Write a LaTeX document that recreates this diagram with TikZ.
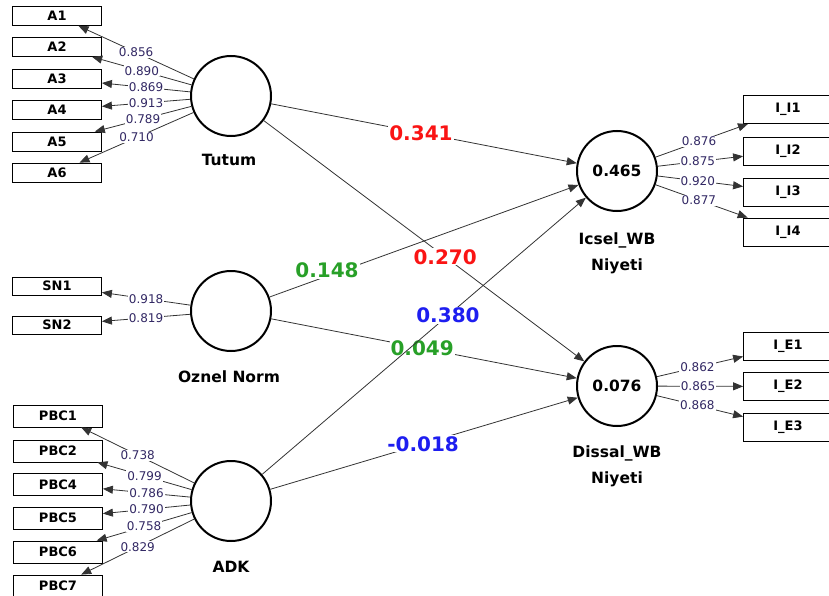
\documentclass[tikz,border=0pt]{standalone}
\usepackage{fontspec}
\setmainfont{DejaVu Sans}
\usetikzlibrary{arrows.meta}
\definecolor{lblc}{RGB}{50,40,100}
\definecolor{pred}{RGB}{250,20,20}
\definecolor{pgreen}{RGB}{40,160,40}
\definecolor{pblue}{RGB}{30,30,240}
\begin{document}
\begin{tikzpicture}[x=1pt,y=-1pt,
  lv/.style={circle,draw,line width=2pt,minimum size=80pt,inner sep=0pt,font=\fontsize{15.5}{18}\selectfont\bfseries},
  ind/.style={rectangle,draw,line width=0.8pt,minimum width=89pt,inner sep=0pt,font=\fontsize{13}{15}\selectfont\bfseries},
  lname/.style={align=center,font=\fontsize{15.5}{26}\selectfont\bfseries},
  ld/.style={-{Triangle[length=10pt,width=8pt]},line width=0.8pt,draw=black!80},
  ll/.style={fill=white,inner sep=1pt,text=lblc,font=\fontsize{12}{13}\selectfont},
  pc/.style={fill=white,inner sep=1pt,font=\fontsize{20}{24}\selectfont\bfseries},
]
\useasboundingbox (0,0) rectangle (829,596);
\clip (0,0) rectangle (829,596);
% latent variables
\node[lv] (tutum) at (231,96) {};
\node[lv] (oznel) at (231,311) {};
\node[lv] (adk) at (231,501) {};
\node[lv] (icsel) at (617,171) {0.465};
\node[lv] (dissal) at (617,386) {0.076};
\node[lname] (ltutum) at (229,160) {Tutum};
\node[lname] (loznel) at (229,377) {Oznel Norm};
\node[lname] (ladk) at (231,567) {ADK};
\node[lname] (licsel) at (617,253) {Icsel\_WB\\Niyeti};
\node[lname] (ldissal) at (617,466) {Dissal\_WB\\Niyeti};
% indicators left
\begin{scope}[every node/.append style={minimum height=19pt}]
\node[ind] (a1) at (57,16) {A1};
\node[ind] (a2) at (57,47) {A2};
\node[ind] (a3) at (57,78.5) {A3};
\node[ind] (a4) at (57,110) {A4};
\node[ind] (a5) at (57,141.5) {A5};
\node[ind] (a6) at (57,172.5) {A6};
\end{scope}
\begin{scope}[every node/.append style={minimum height=18pt}]
\node[ind] (sn1) at (57,286) {SN1};
\node[ind] (sn2) at (57,325) {SN2};
\end{scope}
\begin{scope}[every node/.append style={minimum height=22pt}]
\node[ind] (p1) at (58,416) {PBC1};
\node[ind] (p2) at (58,451) {PBC2};
\node[ind] (p4) at (58,484.5) {PBC4};
\node[ind] (p5) at (58,518) {PBC5};
\node[ind] (p6) at (58,552) {PBC6};
\node[ind] (p7) at (58,586) {PBC7};
\end{scope}
% indicators right
\begin{scope}[every node/.append style={minimum height=28pt,minimum width=86pt}]
\node[ind] (i1) at (788,109.5) {I\_I1};
\node[ind] (i2) at (788,151) {I\_I2};
\node[ind] (i3) at (788,192) {I\_I3};
\node[ind] (i4) at (788,232) {I\_I4};
\node[ind] (e1) at (788,346) {I\_E1};
\node[ind] (e2) at (788,386.5) {I\_E2};
\node[ind] (e3) at (788,427.5) {I\_E3};
\end{scope}
% loadings
\draw[ld] (tutum) -- node[ll,midway]{0.856} (a1);
\draw[ld] (tutum) -- node[ll,midway]{0.890} (a2);
\draw[ld] (tutum) -- node[ll,midway]{0.869} (a3);
\draw[ld] (tutum) -- node[ll,midway]{0.913} (a4);
\draw[ld] (tutum) -- node[ll,midway]{0.789} (a5);
\draw[ld] (tutum) -- node[ll,midway]{0.710} (a6);
\draw[ld] (oznel) -- node[ll,midway]{0.918} (sn1);
\draw[ld] (oznel) -- node[ll,midway]{0.819} (sn2);
\draw[ld] (adk) -- node[ll,midway]{0.738} (p1);
\draw[ld] (adk) -- node[ll,midway]{0.799} (p2);
\draw[ld] (adk) -- node[ll,midway]{0.786} (p4);
\draw[ld] (adk) -- node[ll,midway]{0.790} (p5);
\draw[ld] (adk) -- node[ll,midway]{0.758} (p6);
\draw[ld] (adk) -- node[ll,midway]{0.829} (p7);
\draw[ld] (icsel) -- node[ll,pos=0.47]{0.876} (i1);
\draw[ld] (icsel) -- node[ll,pos=0.47]{0.875} (i2);
\draw[ld] (icsel) -- node[ll,pos=0.47]{0.920} (i3);
\draw[ld] (icsel) -- node[ll,pos=0.47]{0.877} (i4);
\draw[ld] (dissal) -- node[ll,pos=0.47]{0.862} (e1);
\draw[ld] (dissal) -- node[ll,pos=0.47]{0.865} (e2);
\draw[ld] (dissal) -- node[ll,pos=0.47]{0.868} (e3);
% structural paths
\draw[ld] (tutum) -- node[pc,text=pred,pos=0.49]{0.341} (icsel);
\draw[ld] (oznel) -- node[pc,text=pgreen,pos=0.494]{0.049} (dissal);
\draw[ld] (tutum) -- node[pc,text=pred,pos=0.566]{0.270} (dissal);
\draw[ld] (oznel) -- node[pc,text=pgreen,pos=0.186,yshift=6pt]{0.148} (icsel);
\draw[ld] (adk) -- node[pc,text=pblue,pos=0.574]{0.380} (icsel);
\draw[ld] (adk) -- node[pc,text=pblue,pos=0.497]{-0.018} (dissal);
\end{tikzpicture}
\end{document}
